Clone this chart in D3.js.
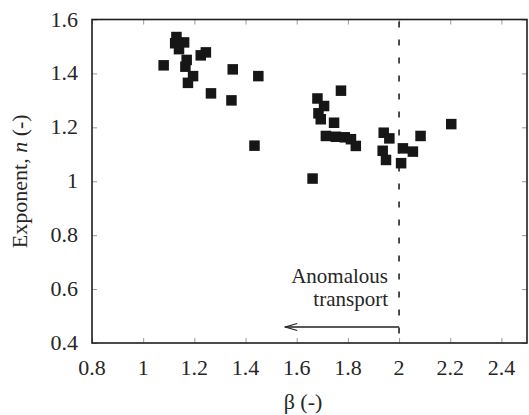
<!DOCTYPE html>
<html>
<head>
<meta charset="utf-8">
<script src="https://cdn.jsdelivr.net/npm/d3@7"></script>
<style>
  html, body { margin: 0; padding: 0; background: #fff; }
  svg { display: block; }
</style>
</head>
<body>
<svg id="chart" width="529" height="415"></svg>
<script>
// Measured exponent n against the stable-distribution parameter beta
const beta = [1.08, 1.13, 1.125, 1.16, 1.14, 1.17, 1.165, 1.195, 1.175, 1.225, 1.245,
              1.265, 1.35, 1.345, 1.45, 1.435, 1.662,
              1.773, 1.681, 1.707, 1.685, 1.694, 1.746, 1.714, 1.753, 1.788, 1.812, 1.831,
              2.204, 1.940, 1.962, 2.084, 1.936, 2.015, 2.054, 1.949, 2.008];
const exponent = [1.43, 1.535, 1.512, 1.515, 1.49, 1.45, 1.425, 1.39, 1.365, 1.467, 1.478,
                  1.326, 1.415, 1.300, 1.39, 1.132, 1.01,
                  1.336, 1.307, 1.279, 1.252, 1.230, 1.217, 1.168, 1.165, 1.163, 1.156, 1.131,
                  1.212, 1.180, 1.159, 1.168, 1.113, 1.122, 1.110, 1.079, 1.067];

const xTicks = [0.8, 1, 1.2, 1.4, 1.6, 1.8, 2, 2.2, 2.4];
const yTicks = [0.4, 0.6, 0.8, 1, 1.2, 1.4, 1.6];
const xDomain = [0.8, 2.5];
const yDomain = [0.4, 1.6];
const threshold = 2;   // beta below this means anomalous transport

// pick the first installed serif face (compare glyph widths against monospace)
function pickSerif(candidates) {
  const ctx = document.createElement("canvas").getContext("2d");
  const probe = "Exponent, n (-) 0.8 1.4 Anomalous transport mmwwiill";
  ctx.font = "40px monospace";
  const base = ctx.measureText(probe).width;
  for (const f of candidates) {
    ctx.font = `40px "${f}", monospace`;
    if (Math.abs(ctx.measureText(probe).width - base) > 0.5) return `"${f}"`;
  }
  return "serif";
}
const serifFamily = pickSerif(["Liberation Serif", "Times New Roman", "Tinos", "DejaVu Serif",
                               "Noto Serif", "FreeSerif", "Times", "Nimbus Roman"]);

const svg = d3.select("#chart").attr("font-family", serifFamily + ", serif");
const plotLeft = 92, plotRight = 527, plotTop = 19.5, plotBottom = 343;
const textColor = "#262626";

const x = d3.scaleLinear().domain(xDomain).range([plotLeft, plotRight]);
const y = d3.scaleLinear().domain(yDomain).range([plotBottom, plotTop]);

const fmt = d => String(d);

// inward tick marks on all four sides
const tickLen = 5;
const tickColor = "#9a9a9a";
function styleTicks(g) {
  g.select(".domain").remove();
  g.selectAll("line").attr("stroke", tickColor);
}
svg.append("g").attr("transform", `translate(0,${plotBottom})`)
  .call(d3.axisBottom(x).tickValues(xTicks).tickSize(-tickLen).tickFormat(""))
  .call(styleTicks);
svg.append("g").attr("transform", `translate(0,${plotTop})`)
  .call(d3.axisTop(x).tickValues(xTicks).tickSize(-tickLen).tickFormat(""))
  .call(styleTicks);
svg.append("g").attr("transform", `translate(${plotLeft},0)`)
  .call(d3.axisLeft(y).tickValues(yTicks).tickSize(-tickLen).tickFormat(""))
  .call(styleTicks);
svg.append("g").attr("transform", `translate(${plotRight},0)`)
  .call(d3.axisRight(y).tickValues(yTicks).tickSize(-tickLen).tickFormat(""))
  .call(styleTicks);

// frame
svg.append("rect")
  .attr("x", plotLeft).attr("y", plotTop)
  .attr("width", plotRight - plotLeft).attr("height", plotBottom - plotTop)
  .attr("fill", "none").attr("stroke", "#1e1e1e").attr("stroke-width", 1.6);

// tick labels
svg.append("g").selectAll("text").data(xTicks).join("text")
  .attr("x", d => x(d)).attr("y", 375)
  .attr("text-anchor", "middle").attr("font-size", 22).attr("fill", textColor)
  .text(fmt);
svg.append("g").selectAll("text").data(yTicks).join("text")
  .attr("x", 78).attr("y", d => y(d) + 7)
  .attr("text-anchor", "end").attr("font-size", 22).attr("fill", textColor)
  .text(fmt);

// axis titles
svg.append("text")
  .attr("x", 303).attr("y", 409)
  .attr("text-anchor", "middle").attr("font-size", 22).attr("fill", textColor)
  .text("β (-)");
const yt = svg.append("text")
  .attr("transform", `translate(27,${(plotTop + plotBottom) / 2}) rotate(-90)`)
  .attr("text-anchor", "middle").attr("font-size", 22).attr("fill", textColor);
yt.append("tspan").text("Exponent, ");
yt.append("tspan").attr("font-style", "italic").text("n");
yt.append("tspan").text(" (-)");

// dashed boundary at beta = 2
svg.append("line")
  .attr("x1", x(threshold)).attr("x2", x(threshold))
  .attr("y1", plotTop).attr("y2", plotBottom)
  .attr("stroke", "#222").attr("stroke-width", 1.6)
  .attr("stroke-dasharray", "6 12").attr("stroke-dashoffset", -2);

// annotation with leftward arrow
svg.append("defs").append("marker")
  .attr("id", "arrowhead")
  .attr("viewBox", "-14 -5 15 10")
  .attr("refX", 0).attr("refY", 0)
  .attr("markerWidth", 15).attr("markerHeight", 10)
  .attr("markerUnits", "userSpaceOnUse")
  .attr("orient", "auto")
  .append("path")
  .attr("d", "M-12,-3.5 L0,0 L-12,3.5")
  .attr("fill", "none").attr("stroke", "#222").attr("stroke-width", 1.3);

svg.append("line")
  .attr("x1", x(threshold)).attr("x2", x(1.555))
  .attr("y1", 327).attr("y2", 327)
  .attr("stroke", "#222").attr("stroke-width", 1.5)
  .attr("marker-end", "url(#arrowhead)");

svg.append("text")
  .attr("x", 388).attr("y", 283)
  .attr("text-anchor", "end").attr("font-size", 21).attr("fill", textColor)
  .text("Anomalous");
svg.append("text")
  .attr("x", 388).attr("y", 306)
  .attr("text-anchor", "end").attr("font-size", 21).attr("fill", textColor)
  .text("transport");

// data markers
const size = 10.5;
svg.append("g").selectAll("rect")
  .data(d3.zip(beta, exponent)).join("rect")
  .attr("x", d => x(d[0]) - size / 2)
  .attr("y", d => y(d[1]) - size / 2)
  .attr("width", size).attr("height", size)
  .attr("fill", "#161616");
</script>
</body>
</html>
